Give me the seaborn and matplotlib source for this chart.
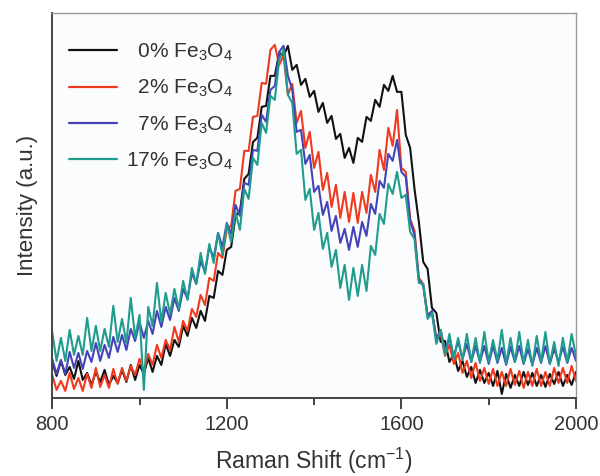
import matplotlib

matplotlib.use("Agg")
import matplotlib.pyplot as plt
import pandas as pd
import seaborn as sns
from matplotlib.ticker import FixedLocator

# %% Data (intensity in arbitrary units, 0 = bottom of axes)
raman_shift = list(range(800, 2001, 10))

fe0 = [36, 22, 37, 23, 31, 19, 37, 18, 25, 13, 26, 16, 28, 13, 22, 15, 28, 16, 33, 18,
       33, 24, 40, 26, 42, 33, 54, 42, 58, 51, 72, 62, 80, 70, 87, 77, 102, 100, 127, 123,
       148, 151, 182, 186, 219, 224, 256, 260, 291, 292, 322, 322, 345, 342, 352, 328, 333, 313, 319, 301,
       307, 286, 295, 275, 282, 259, 264, 240, 250, 235, 260, 256, 281, 277, 298, 291, 313, 307, 322, 306,
       306, 263, 250, 209, 176, 136, 129, 90, 85, 56, 57, 36, 44, 27, 37, 21, 31, 15, 28, 15,
       25, 12, 27, 4, 24, 10, 23, 12, 26, 13, 25, 12, 23, 11, 24, 14, 26, 12, 23, 13, 26]

fe2 = [23, 8, 17, 7, 25, 9, 20, 7, 24, 10, 30, 11, 23, 10, 29, 14, 30, 17, 32, 23,
       39, 27, 44, 33, 53, 40, 58, 48, 71, 56, 77, 67, 89, 81, 103, 93, 120, 117, 145, 140,
       169, 172, 207, 209, 247, 247, 281, 282, 315, 314, 348, 353, 333, 342, 303, 314, 275, 287, 250, 266,
       230, 246, 208, 225, 191, 213, 180, 206, 176, 205, 175, 206, 185, 223, 206, 248, 228, 270, 252, 288,
       230, 226, 179, 167, 120, 114, 83, 86, 60, 64, 42, 53, 34, 45, 25, 37, 20, 35, 17, 30,
       14, 29, 12, 26, 12, 29, 13, 27, 10, 26, 12, 29, 12, 26, 12, 30, 15, 30, 15, 32, 17]

fe7 = [39, 24, 38, 24, 46, 30, 45, 29, 47, 36, 55, 37, 53, 40, 61, 46, 63, 48, 69, 57,
       76, 60, 77, 64, 87, 71, 91, 78, 100, 87, 109, 99, 125, 114, 137, 126, 151, 140, 165, 151,
       175, 164, 193, 182, 215, 213, 248, 247, 283, 276, 308, 312, 346, 352, 322, 308, 266, 268, 234, 243,
       206, 212, 183, 196, 167, 182, 155, 169, 148, 171, 151, 176, 162, 194, 184, 217, 210, 244, 237, 258,
       226, 221, 177, 163, 118, 112, 82, 87, 59, 68, 46, 60, 41, 57, 39, 54, 36, 52, 36, 52,
       34, 52, 35, 50, 33, 51, 36, 52, 34, 49, 33, 50, 35, 52, 34, 49, 36, 51, 35, 50, 37]

fe17 = [66, 37, 60, 37, 68, 43, 62, 43, 80, 47, 72, 47, 69, 51, 92, 56, 79, 55, 100, 60,
        83, 8, 91, 72, 115, 76, 105, 84, 109, 89, 117, 98, 130, 114, 145, 124, 154, 135, 165, 143,
        174, 156, 186, 168, 209, 199, 240, 233, 275, 265, 302, 298, 338, 348, 303, 295, 244, 248, 198, 209,
        168, 185, 149, 165, 131, 148, 110, 133, 98, 130, 102, 133, 107, 152, 143, 184, 174, 214, 204, 226,
        200, 203, 166, 159, 115, 114, 79, 85, 54, 68, 43, 64, 39, 60, 38, 64, 36, 60, 35, 66,
        36, 58, 37, 68, 34, 60, 36, 66, 35, 58, 32, 62, 36, 66, 34, 56, 32, 60, 36, 64, 42]

labels = ["  0% Fe$_\\mathrm{3}$O$_\\mathrm{4}$", "  2% Fe$_\\mathrm{3}$O$_\\mathrm{4}$",
          "  7% Fe$_\\mathrm{3}$O$_\\mathrm{4}$", "17% Fe$_\\mathrm{3}$O$_\\mathrm{4}$"]
colors = ["#111111", "#f03a1e", "#4444b8", "#1f9c8c"]

df = pd.concat(
    [pd.DataFrame({"shift": raman_shift, "intensity": vals, "sample": lab})
     for vals, lab in zip([fe0, fe2, fe7, fe17], labels)],
    ignore_index=True,
)

# %% Style
sns.set_style("ticks")
plt.rcParams["font.family"] = ["Liberation Sans", "DejaVu Sans"]
plt.rcParams["mathtext.fontset"] = "custom"
plt.rcParams["mathtext.rm"] = "Liberation Sans"
plt.rcParams["mathtext.it"] = "Liberation Sans:italic"
plt.rcParams["mathtext.bf"] = "Liberation Sans:bold"

fig = plt.figure(figsize=(6.0, 4.76), dpi=100)
ax = fig.add_axes([0.087, 0.164, 0.873, 0.809])
ax.set_facecolor("#fbfcfd")

sns.lineplot(
    data=df, x="shift", y="intensity", hue="sample", hue_order=labels,
    palette=colors, linewidth=1.5, errorbar=None, ax=ax,
)

ax.set_xlim(800, 2000)
ax.set_ylim(0, 385)
ax.xaxis.set_major_locator(FixedLocator([800, 1200, 1600, 2000]))
ax.xaxis.set_minor_locator(FixedLocator([1000, 1400, 1800]))
ax.set_yticks([])
ax.tick_params(axis="x", which="major", direction="out", length=8, width=1.3,
               labelsize=14.5, colors="#333333", pad=4)
ax.tick_params(axis="x", which="minor", direction="out", length=5, width=1.3, colors="#333333")

for side in ["left", "bottom"]:
    ax.spines[side].set_color("#444444")
    ax.spines[side].set_linewidth(1.4)
for side in ["top", "right"]:
    ax.spines[side].set_visible(True)
    ax.spines[side].set_color("#999999")
    ax.spines[side].set_linewidth(1.0)

ax.set_xlabel("Raman Shift (cm$^{-1}$)", fontsize=16.5, color="#333333", labelpad=9)
ax.set_ylabel("Intensity (a.u.)", fontsize=16, color="#333333", labelpad=10)

leg = ax.legend(
    loc="upper left", bbox_to_anchor=(0.032, 0.925), frameon=False, fontsize=15,
    handlelength=2.3, handletextpad=0.45, labelspacing=0.72, borderpad=0, borderaxespad=0,
)
for line in leg.get_lines():
    line.set_linewidth(1.6)
for t in leg.get_texts():
    t.set_color("#333333")

plt.savefig("out.png", dpi=100)
plt.close()
